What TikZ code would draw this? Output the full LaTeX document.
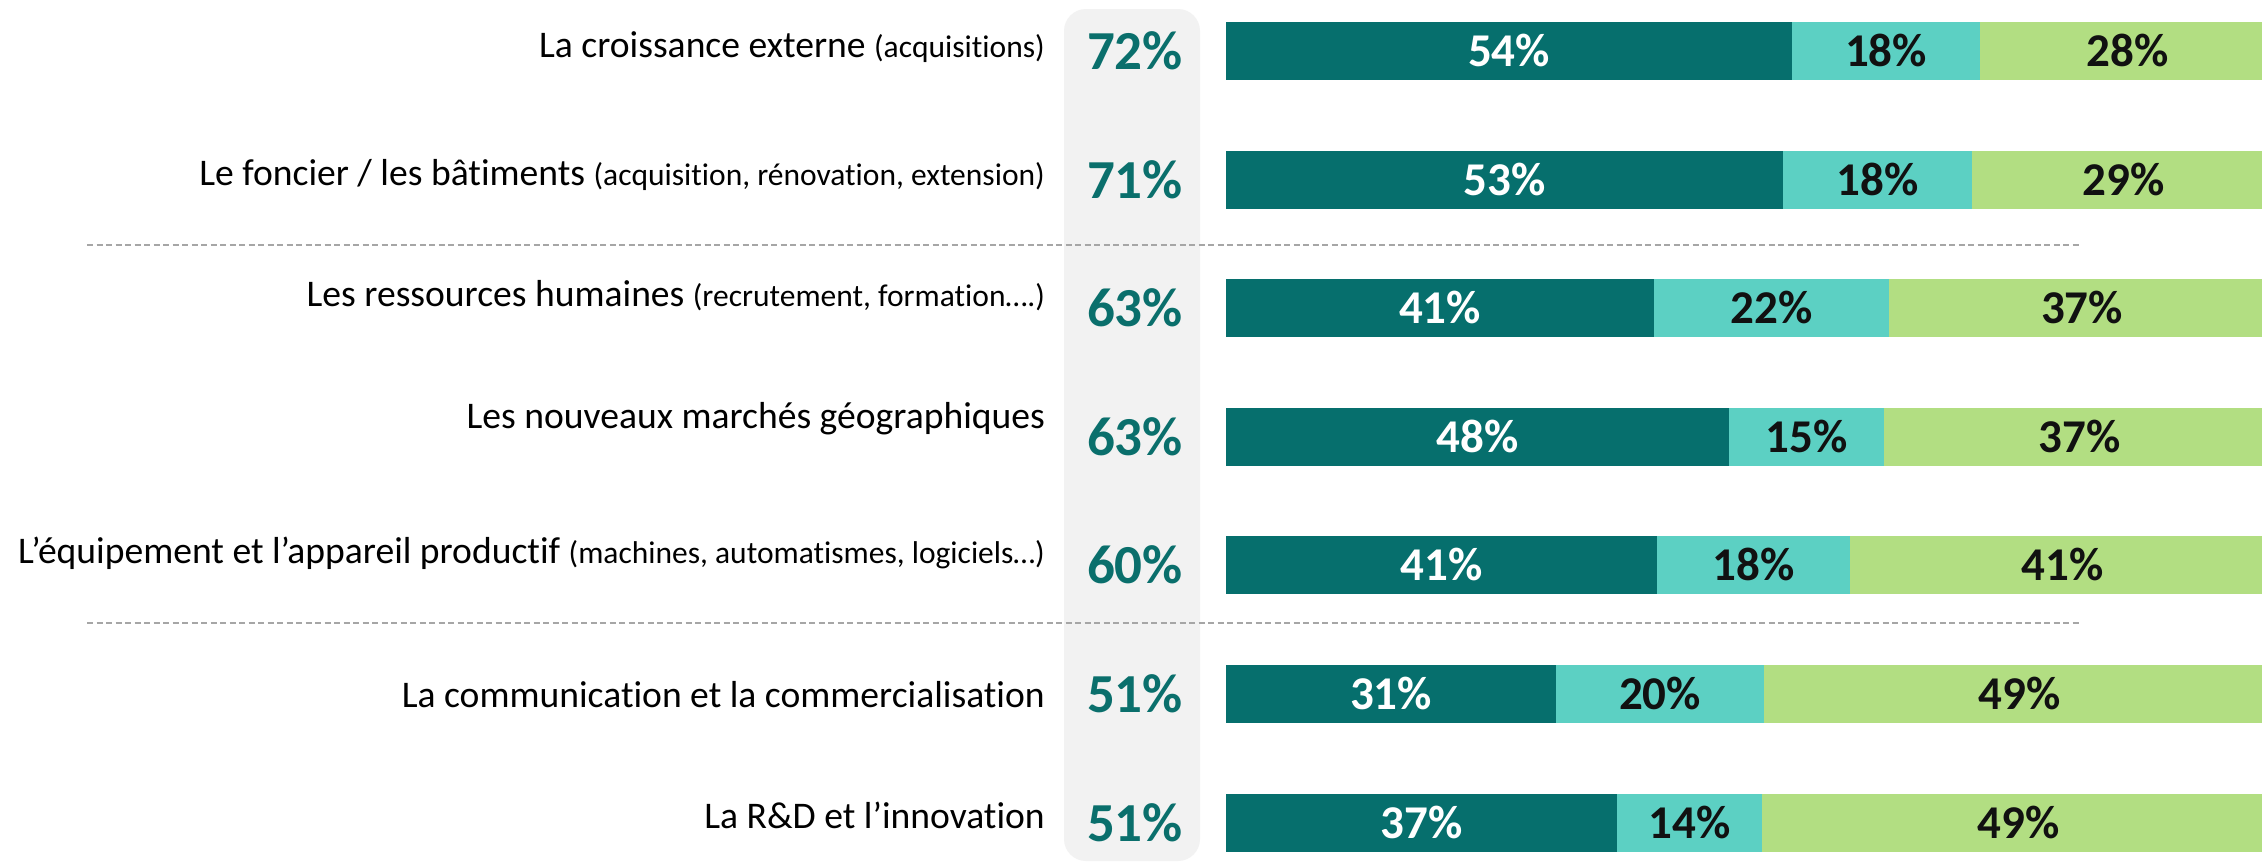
\documentclass[tikz,border=0pt]{standalone}
\usepackage{fontspec}
\setmainfont{Carlito}[Ligatures={TeX,NoCommon}]
\definecolor{cdark}{HTML}{066F6D}
\definecolor{cmid}{HTML}{5CD0C3}
\definecolor{clight}{HTML}{B2DE82}
\definecolor{cpanel}{HTML}{F2F2F2}
\definecolor{cpct}{HTML}{0A6F6C}
\definecolor{cdash}{HTML}{A6A6A6}
\definecolor{ctxt}{HTML}{111111}
\newcommand{\bigf}{\fontsize{37.6}{42}\selectfont}
\newcommand{\smallf}{\fontsize{31.5}{35}\selectfont}
\tikzset{
  lbl/.style={anchor=base east, inner sep=0pt, text=black, font=\bigf},
  tot/.style={anchor=base, inner sep=0pt, text=cpct, font=\fontsize{55}{60}\selectfont\bfseries},
  vwhite/.style={anchor=base, inner sep=0pt, text=white, font=\fontsize{47}{50}\selectfont\bfseries},
  vblack/.style={anchor=base, inner sep=0pt, text=ctxt, font=\fontsize{47}{50}\selectfont\bfseries},
  sep/.style={draw=cdash, line width=2pt, dash pattern=on 6pt off 3.5pt}
}
% #1 row id, #2 centre y, #3 x1, #4 x2, #5 v1, #6 v2, #7 v3, #8 total
\newcommand{\barrow}[8]{%
  \fill[cdark] (1226,#2-29) rectangle (#3,#2+29);
  \fill[cmid] (#3,#2-29) rectangle (#4,#2+29);
  \fill[clight] (#4,#2-29) rectangle (2262,#2+29);
  \node[vwhite] (#1a) at ({(1226+#3)/2},#2+15.5) {#5\%};
  \node[vblack] (#1b) at ({(#3+#4)/2},#2+15.5) {#6\%};
  \node[vblack] (#1c) at ({(#4+2275)/2},#2+15.5) {#7\%};
  \node[tot] (#1t) at (1135,#2+18.5) {#8\%};
}
\begin{document}
\begin{tikzpicture}[x=1pt,y=-1pt]
\useasboundingbox (0,0) rectangle (2262,862);
\fill[white] (0,0) rectangle (2262,862);
% grey panel
\fill[cpanel, rounded corners=22pt] (1064,9) rectangle (1200,861);
% separators
\coordinate (s1a) at (87,245); \coordinate (s1b) at (2081,245);
\coordinate (s2a) at (87,623); \coordinate (s2b) at (2081,623);
\draw[sep] (s1a) -- (s1b);
\draw[sep] (s2a) -- (s2b);
% bars
\barrow{r1}{50.5}{1792}{1980}{54}{18}{28}{72}
\barrow{r2}{179.5}{1783}{1972}{53}{18}{29}{71}
\barrow{r3}{308}{1654}{1889}{41}{22}{37}{63}
\barrow{r4}{437}{1729}{1884}{48}{15}{37}{63}
\barrow{r5}{565}{1657}{1850}{41}{18}{41}{60}
\barrow{r6}{694}{1556}{1764}{31}{20}{49}{51}
\barrow{r7}{822.5}{1617}{1762}{37}{14}{49}{51}
% labels
\node[lbl] (l1) at (1045,57) {La croissance externe {\smallf(acquisitions)}};
\node[lbl] (l2) at (1045,185) {Le foncier / les bâtiments {\smallf(acquisition, rénovation, extension)}};
\node[lbl] (l3) at (1045,306) {Les ressources humaines {\smallf(recrutement, formation….)}};
\node[lbl] (l4) at (1045,428) {Les nouveaux marchés géographiques};
\node[lbl] (l5) at (1045,563) {L’équipement et l’appareil productif {\smallf(machines, automatismes, logiciels…)}};
\node[lbl] (l6) at (1045,707) {La communication et la commercialisation};
\node[lbl] (l7) at (1045,828) {La R\&D et l’innovation};
\end{tikzpicture}
\end{document}
